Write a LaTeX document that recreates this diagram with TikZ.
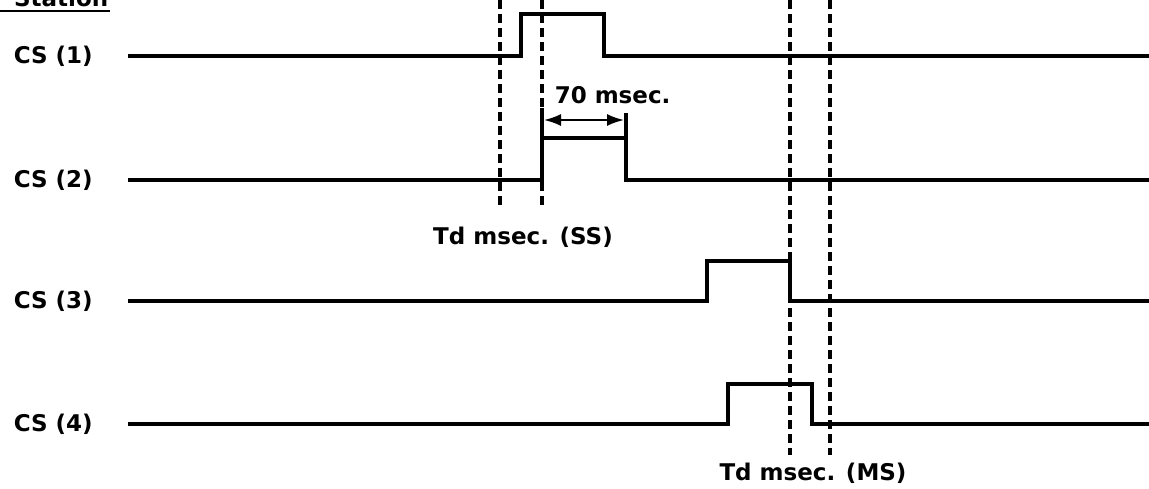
\documentclass[tikz,border=0pt]{standalone}
\usepackage{fontspec}
\setmainfont{DejaVu Sans}
\usetikzlibrary{arrows.meta}
\begin{document}
\begin{tikzpicture}[x=1pt,y=-1pt,line width=3.5pt,
  lbl/.style={font=\fontsize{23}{27}\selectfont\bfseries,inner sep=0pt},
  tdline/.style={line width=3.5pt,dash pattern=on 9pt off 5pt}]
\useasboundingbox (0,0) rectangle (1149,488);
\clip (0,0) rectangle (1149,488);
% title (cut at the top edge)
\node[lbl,anchor=base east] (title) at (110,6) {Station};
\draw[line width=2pt] (0,11) -- (110,11);
% signal names
\node[lbl,anchor=west] (cs1) at (12,56) {CS (1)};
\node[lbl,anchor=west] (cs2) at (12,180) {CS (2)};
\node[lbl,anchor=west] (cs3) at (12,301) {CS (3)};
\node[lbl,anchor=west] (cs4) at (12,424) {CS (4)};
% signals
\draw (128,56) -- (521,56) -- (521,14) -- (604,14) -- (604,56) -- (1149,56);
\draw (128,180) -- (542,180) -- (542,138) -- (626,138) -- (626,180) -- (1149,180);
\draw (128,301) -- (707,301) -- (707,261) -- (790,261) -- (790,301) -- (1149,301);
\draw (128,424) -- (728,424) -- (728,384) -- (812,384) -- (812,424) -- (1149,424);
% delay marks
\draw[tdline] (500,0) -- (500,206);
\draw[tdline] (542,0) -- (542,206);
\draw[tdline] (790,0) -- (790,455);
\draw[tdline] (830,0) -- (830,455);
\node[lbl] (tdss) at (523,237) {Td msec. (SS)};
\node[lbl] (tdms) at (813,473) {Td msec. (MS)};
% pulse width
\draw (542,108) -- (542,138);
\draw (626,113) -- (626,138);
\coordinate (wa) at (544,120);
\coordinate (wb) at (624,120);
\draw[{Latex[length=17pt,width=12pt]}-{Latex[length=17pt,width=12pt]},line width=2pt] (wa) -- (wb);
\node[lbl,anchor=west] (width) at (553,95) {70 msec.};
\end{tikzpicture}
\end{document}
